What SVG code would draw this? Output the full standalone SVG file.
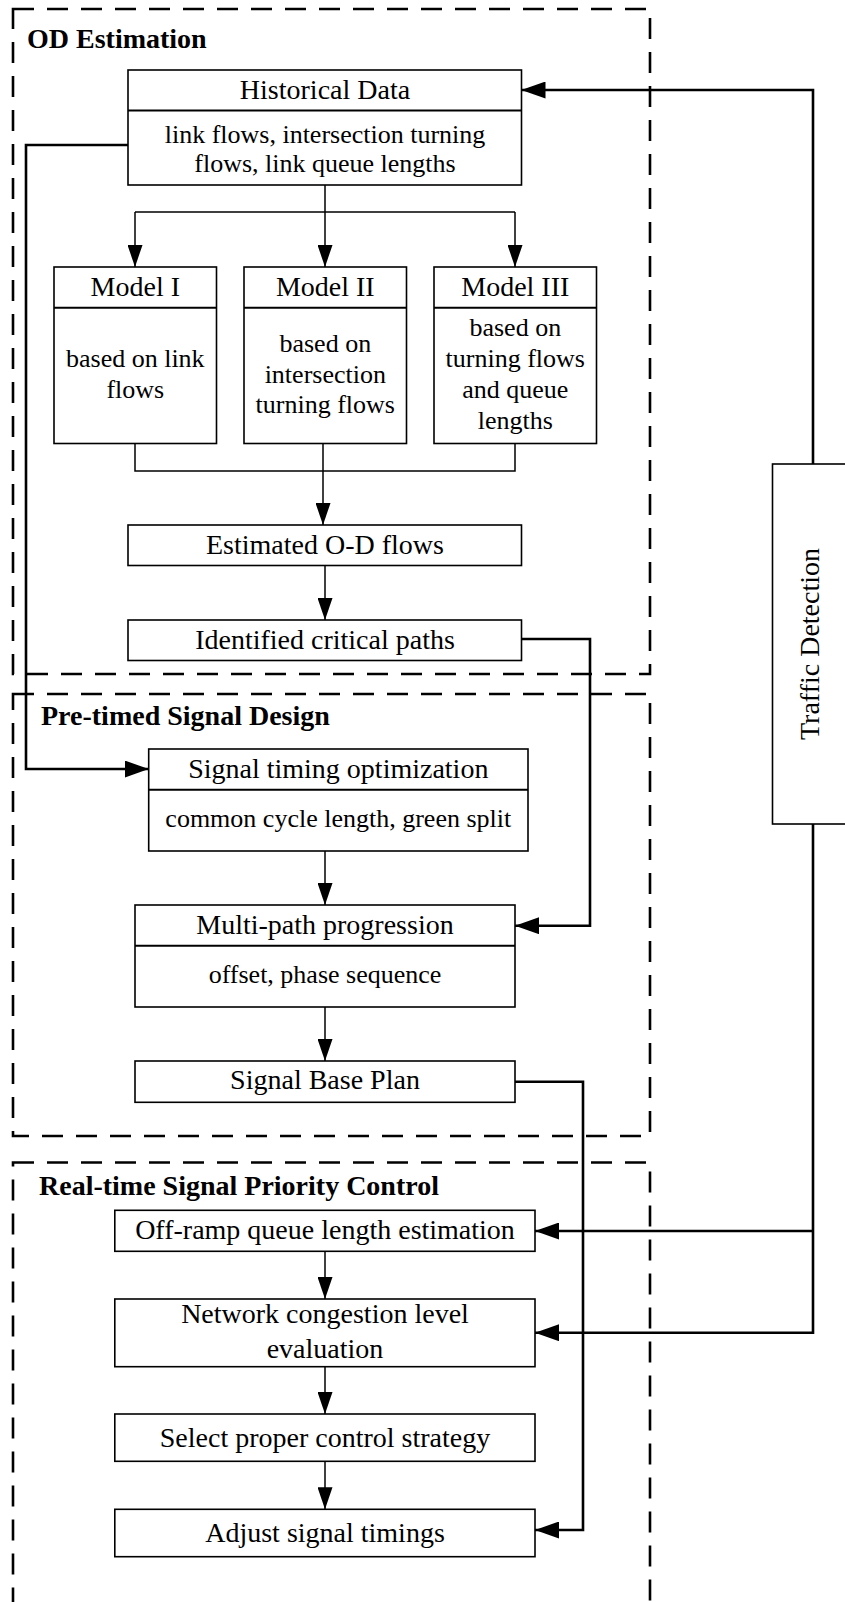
<svg xmlns="http://www.w3.org/2000/svg" width="845" height="1602" viewBox="0 0 845 1602">
  <style>
    .bg { fill: #ffffff; }
    .stage { fill: none; stroke: #000; stroke-width: 2.6; stroke-dasharray: 21 13; }
    .box { fill: #fff; stroke: #000; stroke-width: 1.6; }
    .div { stroke: #000; stroke-width: 2; }
    .thin { fill: none; stroke: #000; stroke-width: 1.5; }
    .thick { fill: none; stroke: #000; stroke-width: 2.6; }
    .head { font-family: "Liberation Serif", "Times New Roman", serif; font-size: 28px; text-anchor: middle; fill: #000; }
    .body { font-family: "Liberation Serif", "Times New Roman", serif; font-size: 26px; text-anchor: middle; fill: #000; }
    .stitle { font-family: "Liberation Serif", "Times New Roman", serif; font-size: 28px; font-weight: bold; fill: #000; }
  </style>
  <defs>
    <marker id="arrow" markerUnits="userSpaceOnUse" markerWidth="22" markerHeight="15" refX="22" refY="7.5" orient="auto">
      <path d="M0,0 L22,7.5 L0,15 z" fill="#000"/>
    </marker>
    <marker id="arrowBig" markerUnits="userSpaceOnUse" markerWidth="24" markerHeight="17" refX="24" refY="8.5" orient="auto">
      <path d="M0,0 L24,8.5 L0,17 z" fill="#000"/>
    </marker>
  </defs>

  <rect class="bg" x="0" y="0" width="845" height="1602"/>

  <!-- stage frames -->
  <g id="stage-od">
    <rect class="stage" x="13" y="9" width="637" height="665"/>
    <text class="stitle" x="27" y="48">OD Estimation</text>
  </g>
  <g id="stage-pretimed">
    <rect class="stage" x="13" y="694" width="637" height="442"/>
    <text class="stitle" x="41" y="725">Pre-timed Signal Design</text>
  </g>
  <g id="stage-realtime">
    <rect class="stage" x="13" y="1162.5" width="637" height="470"/>
    <text class="stitle" x="39" y="1195">Real-time Signal Priority Control</text>
  </g>

  <!-- connectors -->
  <g id="connectors">
    <!-- historical data to the three models -->
    <path class="thin" d="M325,185 V212 M135,212 H515"/>
    <path class="thin" d="M135,212 V267" marker-end="url(#arrow)"/>
    <path class="thin" d="M325,212 V267" marker-end="url(#arrow)"/>
    <path class="thin" d="M515,212 V267" marker-end="url(#arrow)"/>
    <!-- models merge into estimated flows -->
    <path class="thin" d="M135,443.5 V471 H515 V443.5 M323,443.5 V471"/>
    <path class="thin" d="M323,471 V525" marker-end="url(#arrow)"/>
    <path class="thin" d="M325,565.5 V620" marker-end="url(#arrow)"/>
    <!-- historical data to signal timing optimization -->
    <path class="thick" d="M128,145 H26 V769 H148.7" marker-end="url(#arrowBig)"/>
    <!-- critical paths to multi-path progression -->
    <path class="thick" d="M521.5,639 H590 V925.7 H515" marker-end="url(#arrowBig)"/>
    <path class="thin" d="M325,851 V905" marker-end="url(#arrow)"/>
    <path class="thin" d="M325,1007 V1061" marker-end="url(#arrow)"/>
    <!-- base plan to adjust signal timings -->
    <path class="thick" d="M515,1081.7 H583 V1530 H535" marker-end="url(#arrowBig)"/>
    <!-- real-time chain -->
    <path class="thin" d="M325,1251.3 V1299" marker-end="url(#arrow)"/>
    <path class="thin" d="M325,1366.7 V1414" marker-end="url(#arrow)"/>
    <path class="thin" d="M325,1461.3 V1509.3" marker-end="url(#arrow)"/>
    <!-- traffic detection feedback -->
    <path class="thick" d="M813,464 V90 H521.5" marker-end="url(#arrowBig)"/>
    <path class="thick" d="M813,824 V1332.7 H535" marker-end="url(#arrowBig)"/>
    <path class="thick" d="M813,1231 H535" marker-end="url(#arrowBig)"/>
  </g>

  <!-- OD estimation nodes -->
  <g id="historical-data">
    <rect class="box" x="128" y="70" width="393.5" height="115"/>
    <line class="div" x1="128" y1="110.5" x2="521.5" y2="110.5"/>
    <text class="head" x="325" y="99">Historical Data</text>
    <text class="body" x="325" y="143">link flows, intersection turning</text>
    <text class="body" x="325" y="172">flows, link queue lengths</text>
  </g>
  <g id="model-1">
    <rect class="box" x="54" y="267" width="162.5" height="176.5"/>
    <line class="div" x1="54" y1="307.7" x2="216.5" y2="307.7"/>
    <text class="head" x="135.3" y="296">Model I</text>
    <text class="body" x="135.3" y="367">based on link</text>
    <text class="body" x="135.3" y="398">flows</text>
  </g>
  <g id="model-2">
    <rect class="box" x="244" y="267" width="162.5" height="176.5"/>
    <line class="div" x1="244" y1="307.7" x2="406.5" y2="307.7"/>
    <text class="head" x="325.3" y="296">Model II</text>
    <text class="body" x="325.3" y="352">based on</text>
    <text class="body" x="325.3" y="383">intersection</text>
    <text class="body" x="325.3" y="413">turning flows</text>
  </g>
  <g id="model-3">
    <rect class="box" x="434" y="267" width="162.5" height="176.5"/>
    <line class="div" x1="434" y1="307.7" x2="596.5" y2="307.7"/>
    <text class="head" x="515.3" y="296">Model III</text>
    <text class="body" x="515.3" y="336">based on</text>
    <text class="body" x="515.3" y="367">turning flows</text>
    <text class="body" x="515.3" y="398">and queue</text>
    <text class="body" x="515.3" y="429">lengths</text>
  </g>
  <g id="estimated-od">
    <rect class="box" x="128" y="525" width="393.5" height="40.5"/>
    <text class="head" x="325" y="554">Estimated O-D flows</text>
  </g>
  <g id="critical-paths">
    <rect class="box" x="128" y="620" width="393.5" height="40.5"/>
    <text class="head" x="325" y="649">Identified critical paths</text>
  </g>

  <!-- pre-timed design nodes -->
  <g id="signal-timing">
    <rect class="box" x="148.7" y="749" width="379.3" height="102"/>
    <line class="div" x1="148.7" y1="789.7" x2="528" y2="789.7"/>
    <text class="head" x="338.3" y="777.5">Signal timing optimization</text>
    <text class="body" x="338.3" y="827">common cycle length, green split</text>
  </g>
  <g id="multi-path">
    <rect class="box" x="135" y="905" width="380" height="102"/>
    <line class="div" x1="135" y1="945.7" x2="515" y2="945.7"/>
    <text class="head" x="325" y="933.5">Multi-path progression</text>
    <text class="body" x="325" y="983">offset, phase sequence</text>
  </g>
  <g id="base-plan">
    <rect class="box" x="135" y="1061" width="380" height="41.3"/>
    <text class="head" x="325" y="1089">Signal Base Plan</text>
  </g>

  <!-- real-time control nodes -->
  <g id="queue-estimation">
    <rect class="box" x="114.8" y="1210.3" width="420.2" height="41"/>
    <text class="head" x="325" y="1238.5">Off-ramp queue length estimation</text>
  </g>
  <g id="congestion-level">
    <rect class="box" x="114.8" y="1299" width="420.2" height="67.7"/>
    <text class="head" x="325" y="1323">Network congestion level</text>
    <text class="head" x="325" y="1357.5">evaluation</text>
  </g>
  <g id="control-strategy">
    <rect class="box" x="114.8" y="1414" width="420.2" height="47.3"/>
    <text class="head" x="325" y="1447">Select proper control strategy</text>
  </g>
  <g id="adjust-timings">
    <rect class="box" x="114.8" y="1509.3" width="420.2" height="47.4"/>
    <text class="head" x="325" y="1542">Adjust signal timings</text>
  </g>

  <!-- detection source -->
  <g id="traffic-detection">
    <rect class="box" x="772.5" y="464" width="90" height="360"/>
    <text class="head" transform="translate(819,644) rotate(-90)" x="0" y="0">Traffic Detection</text>
  </g>
</svg>
